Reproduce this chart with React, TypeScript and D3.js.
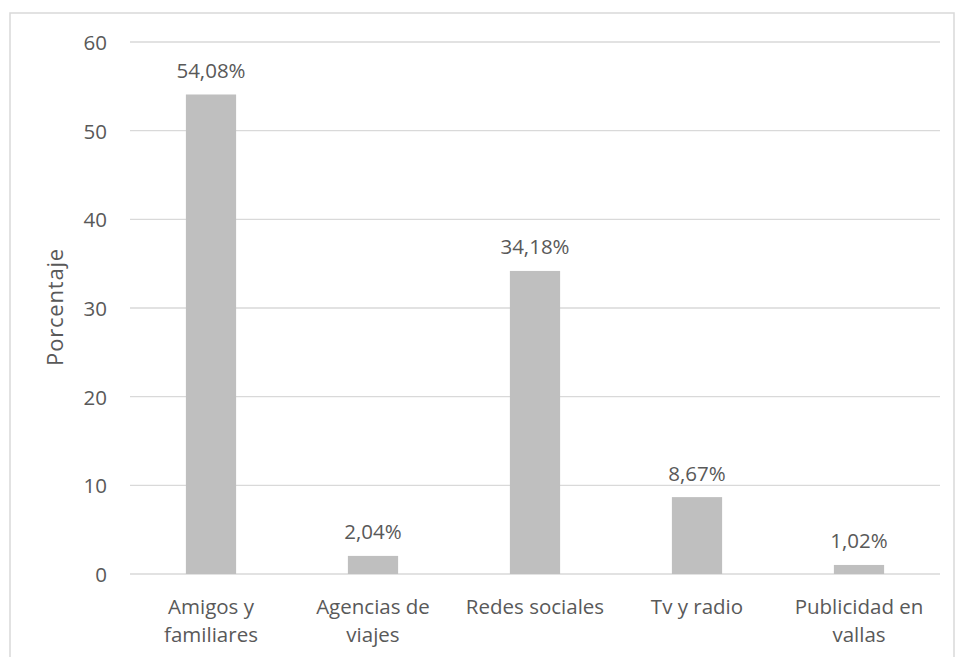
import React from "react";
import * as d3 from "d3";

const categories = ["Amigos y familiares", "Agencias de viajes", "Redes sociales", "Tv y radio", "Publicidad en vallas"];
const categoryLines = [["Amigos y", "familiares"], ["Agencias de", "viajes"], ["Redes sociales"], ["Tv y radio"], ["Publicidad en", "vallas"]];
const values = [54.08, 2.04, 34.18, 8.67, 1.02];
const valueLabels = ["54,08%", "2,04%", "34,18%", "8,67%", "1,02%"];
const yTicks = [0, 10, 20, 30, 40, 50, 60];

export default function App() {
  const W = 955, H = 657;
  const left = 130, right = 940, top = 42, bottom = 574;
  const x = d3.scaleBand<string>().domain(categories).range([left, right]).paddingInner(0.69).paddingOuter(0.345);
  const y = d3.scaleLinear().domain([0, 60]).range([bottom, top]);
  const font = "'Open Sans', sans-serif";
  const color = "#595959";
  const fs = 20.5;
  return (
    <svg width={W} height={H} style={{ position: "absolute", left: 0, top: 0 }} fontFamily={font}>
      <rect x={0} y={0} width={W} height={H} fill="#fff" />
      <rect x={10} y={13} width={944} height={700} fill="none" stroke="#d9d9d9" strokeWidth={1.5} />
      {yTicks.map(t => (
        <g key={t}>
          <line x1={left} x2={right} y1={y(t)} y2={y(t)} stroke="#d9d9d9" strokeWidth={1.3} />
          <text x={107} y={y(t) + 8} textAnchor="end" fontSize={fs} fill={color}>{t}</text>
        </g>
      ))}
      {categories.map((c, i) => (
        <g key={c}>
          <rect x={x(c)} y={y(values[i])} width={x.bandwidth()} height={y(0) - y(values[i])} fill="#bfbfbf" />
          <text x={(x(c) as number) + x.bandwidth() / 2} y={y(values[i]) - 16.5} textAnchor="middle" fontSize={fs} fill={color}>{valueLabels[i]}</text>
          {categoryLines[i].map((ln, j) => (
            <text key={j} x={(x(c) as number) + x.bandwidth() / 2} y={614 + j * 28} textAnchor="middle" fontSize={fs} fill={color}>{ln}</text>
          ))}
        </g>
      ))}
      <text transform={`translate(63,307) rotate(-90)`} textAnchor="middle" fontSize={22} letterSpacing={0.8} fill={color}>Porcentaje</text>
    </svg>
  );
}
